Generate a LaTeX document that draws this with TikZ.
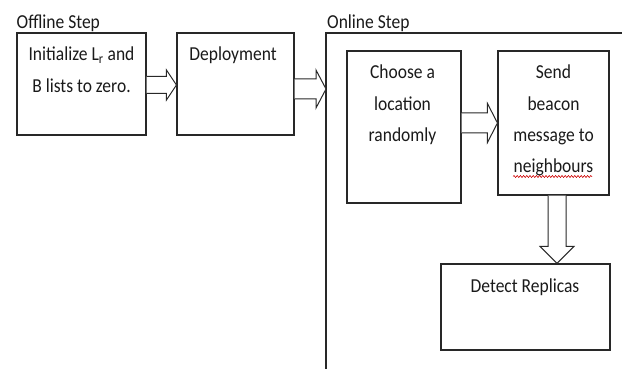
\documentclass[tikz,border=0pt]{standalone}
\usepackage{fontspec}
\setmainfont{Carlito}
\usetikzlibrary{calc,decorations.pathmorphing}
\definecolor{ln}{HTML}{282828}
\definecolor{tx}{HTML}{1A1A1A}
\newcommand\txt[1]{\scalebox{1}[1.13]{\fontsize{17.5}{27.6}\selectfont\begin{tabular}[t]{@{}c@{}}#1\end{tabular}}}
\tikzset{
  box/.style={draw=ln, line width=1.1pt, rectangle, inner sep=0pt},
  lbl/.style={text=tx, inner sep=0pt, anchor=base},
  head/.style={text=tx, inner sep=0pt, anchor=base west},
  blk/.style={draw=ln, fill=white, line width=1pt, line join=miter},
}
\newcommand\harrow[5]{%
  \draw[blk] let \p1=(#1), \p2=(#2) in
    (\x1,\y1+#3pt) -- (\x2-#5pt,\y1+#3pt) -- (\x2-#5pt,\y1+#4pt) -- (\x2,\y1)
    -- (\x2-#5pt,\y1-#4pt) -- (\x2-#5pt,\y1-#3pt) -- (\x1,\y1-#3pt);}
\newcommand\varrow[5]{%
  \draw[blk] let \p1=(#1), \p2=(#2) in
    (\x1+#3pt,\y1) -- (\x1+#3pt,\y2+#5pt) -- (\x1+#4pt,\y2+#5pt) -- (\x1,\y2)
    -- (\x1-#4pt,\y2+#5pt) -- (\x1-#3pt,\y2+#5pt) -- (\x1-#3pt,\y1);}
\begin{document}
\begin{tikzpicture}[x=1pt,y=-1pt]
\useasboundingbox (0,0) rectangle (622,369);
% online frame
\draw[ln, line width=1.1pt] (326,375) -- (326,33) -- (630,33);
% headings
\node[head] (offh) at (16.5,29) {\txt{Offline Step}};
\node[head] (onh) at (327,29) {\txt{Online Step}};
% boxes
\node[box, minimum width=129pt, minimum height=102pt] (b1) at (81.5,84) {};
\node[box, minimum width=117pt, minimum height=102pt] (b2) at (235.5,84) {};
\node[box, minimum width=114pt, minimum height=152pt] (b3) at (404,127) {};
\node[box, minimum width=111pt, minimum height=144pt] (b4) at (553.5,123) {};
\node[box, minimum width=169pt, minimum height=86pt] (b5) at (525.5,307) {};
% texts
\node[lbl] (t1) at (81.5,61) {\txt{Initialize L\textsubscript{r} and\\B lists to zero.}};
\node[lbl] (t2) at (233,61) {\txt{Deployment}};
\node[lbl] (t3) at (402.5,79) {\txt{Choose a\\location\\randomly}};
\node[lbl] (t4) at (553.5,79) {\txt{Send\\beacon\\message to\\neighbours}};
\node[lbl] (t5) at (525,292) {\txt{Detect Replicas}};
% spell-check underline
\coordinate (w1) at (513,176.5);
\coordinate (w2) at (592,176.5);
\draw[red!80!black, line width=0.6pt, decorate, decoration={snake, amplitude=1pt, segment length=3.2pt}] (w1) -- (w2);
% arrows
\coordinate (a1s) at ($(b1.east |- 0,85)$);
\coordinate (a1e) at ($(b2.west |- 0,85)$);
\harrow{a1s}{a1e}{8.5}{15}{10}
\coordinate (a2s) at ($(b2.east |- 0,89)$);
\coordinate (a2e) at (326,89);
\harrow{a2s}{a2e}{10}{19}{10}
\coordinate (a3s) at ($(b3.east |- 0,123)$);
\coordinate (a3e) at ($(b4.west |- 0,123)$);
\harrow{a3s}{a3e}{10}{19.5}{10}
\coordinate (a4s) at ($(b4.south -| 557,0)$);
\coordinate (a4e) at ($(b5.north -| 557,0)$);
\varrow{a4s}{a4e}{9}{17}{17}
\end{tikzpicture}
\end{document}
